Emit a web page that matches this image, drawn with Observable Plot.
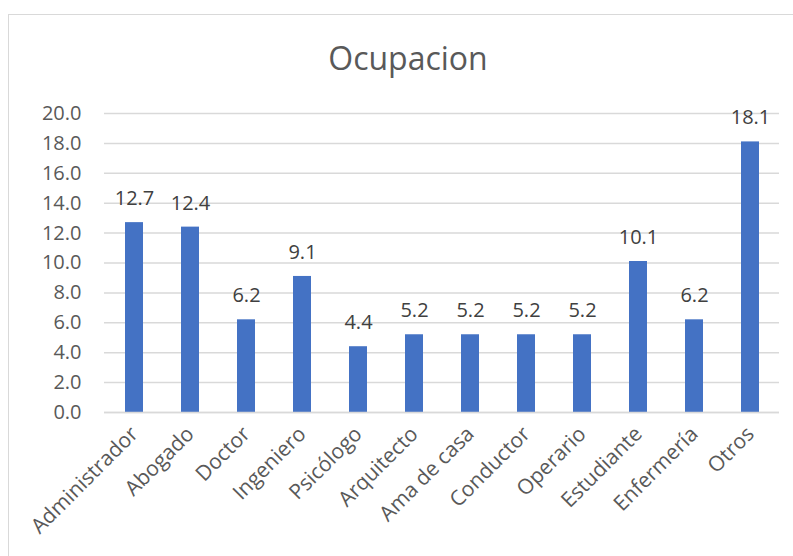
<!DOCTYPE html>
<html>
<head>
<meta charset="utf-8">
<script src="https://cdn.jsdelivr.net/npm/d3@7"></script>
<script src="https://cdn.jsdelivr.net/npm/@observablehq/plot@0.6"></script>
<style>
  html, body { margin: 0; padding: 0; background: #ffffff; }
  #wrap { position: relative; width: 793px; height: 556px; overflow: hidden; font-family: "Open Sans", sans-serif; }
  #box { position: absolute; left: 8px; top: 14px; width: 800px; height: 560px; border: 1.5px solid #d9d9d9; box-sizing: border-box; }
  #title { position: absolute; left: 0; width: 816px; top: 36px; text-align: center; font-size: 32px; color: #595959; }
  #chart { position: absolute; left: 0; top: 0; }
</style>
</head>
<body>
<div id="wrap">
  <div id="box"></div>
  <div id="title">Ocupacion</div>
  <div id="chart"></div>
</div>
<script>
const categories = ["Administrador", "Abogado", "Doctor", "Ingeniero", "Psicólogo", "Arquitecto", "Ama de casa", "Conductor", "Operario", "Estudiante", "Enfermería", "Otros"];
const values = [12.7, 12.4, 6.2, 9.1, 4.4, 5.2, 5.2, 5.2, 5.2, 10.1, 6.2, 18.1];
const yTicks = [0, 2, 4, 6, 8, 10, 12, 14, 16, 18, 20];

const data = categories.map((c, i) => ({category: c, value: values[i]}));

const chart = Plot.plot({
  width: 793,
  height: 556,
  marginLeft: 104,
  marginRight: 14,
  marginTop: 113,
  marginBottom: 144,
  style: {fontFamily: "Open Sans, sans-serif", fontSize: "20px", background: "transparent", overflow: "visible"},
  x: {domain: categories, paddingInner: 0.68, paddingOuter: 0.34, label: null},
  y: {domain: [0, 20], ticks: yTicks, label: null},
  marks: [
    Plot.gridY(yTicks, {stroke: "#d9d9d9", strokeOpacity: 1, strokeWidth: 1.5}),
    Plot.barY(data, {x: "category", y: "value", fill: "#4472C4"}),
    Plot.ruleY([0], {stroke: "#d9d9d9", strokeWidth: 1.5}),
    Plot.text(data, {x: "category", y: "value", text: d => d.value.toFixed(1), dy: -24, fill: "#404040", fontSize: 20}),
    Plot.axisY({ticks: yTicks, tickFormat: d => d.toFixed(1), tickSize: 0, tickPadding: 23, fill: "#595959", fontSize: 20}),
    Plot.axisX({tickSize: 0, tickPadding: 18, tickRotate: -45, fill: "#595959", fontSize: 21})
  ]
});
document.getElementById("chart").appendChild(chart);
</script>
</body>
</html>
